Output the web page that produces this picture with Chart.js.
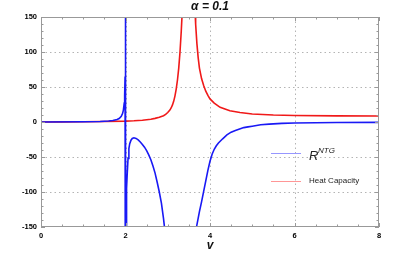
<!DOCTYPE html>
<html>
<head>
    <title>alpha = 0.1</title>
    <script src="https://cdn.jsdelivr.net/npm/chart.js"></script>
    <style>
        body {
            margin: 0;
            background-color: white;
        }
        #plot {
            display: block;
        }
    </style>
</head>
<body>
    <canvas id="plot" width="415" height="260"></canvas>

    <script>
        // values (null = break in the curve)
        const blueV = [0, 1.0, 1.4, 1.6, 1.7, 1.8, 1.85, 1.9, 1.93, 1.95, 1.97, 1.98, 1.99, 1.996, 2.003,
                       2.004, 2.012, 2.02, 2.03, 2.04, 2.06, 2.08, 2.1, 2.13, 2.16, 2.2, 2.25, 2.3, 2.35, 2.4, 2.45,
                       2.5, 2.55, 2.6, 2.65, 2.7, 2.75, 2.8, 2.85, 2.9, 2.95, 3.0,
                       3.3,
                       3.6, 3.68, 3.75, 3.8, 3.85, 3.9, 3.95, 4.0, 4.05, 4.1, 4.15, 4.2, 4.3, 4.4, 4.5, 4.6, 4.7,
                       4.8, 4.9, 5.0, 5.2, 5.4, 5.7, 6.0, 6.5, 7.0, 8.0];
        const blueR = [0, 0.3, 0.8, 1.5, 2.2, 3.5, 5, 8, 12, 17, 27, 38, 65, 130, 600,
                       -600, -180, -130, -95, -75, -52, -38, -31, -26, -23.5, -22.5, -23.5, -25.5, -28.5, -32, -36,
                       -41, -47, -54, -63, -73, -86, -100, -116, -138, -165, -200,
                       null,
                       -200, -150, -128, -114, -99, -84, -69, -56, -46, -39, -34, -30, -24, -18.5, -14.5, -12, -10,
                       -8, -7, -6, -4, -3, -2, -1.5, -1, -0.8, -0.5];

        const redV = [0, 0.5, 1.0, 1.5, 2.0, 2.2, 2.4, 2.5, 2.6, 2.7, 2.8, 2.9, 2.95, 3.0, 3.05, 3.08, 3.11,
                      3.14, 3.17, 3.2, 3.23, 3.26, 3.29, 3.32, 3.345, 3.37,
                      3.5,
                      3.62, 3.645, 3.66, 3.69, 3.72, 3.75, 3.8, 3.85, 3.9, 3.95, 4.0, 4.1, 4.24, 4.47, 4.71,
                      5.0, 5.5, 6.0, 7.0, 8.0];
        const redC = [0, 0.2, 0.4, 0.7, 1.2, 1.7, 2.5, 3.2, 4, 5.2, 6.8, 9, 10.8, 13.5, 17, 20, 24,
                      29.5, 37, 47, 60, 77, 100, 130, 160, 200,
                      null,
                      200, 160, 140, 112, 92, 77, 62, 52, 44, 38, 33, 27, 21, 16, 13.5,
                      11.5, 10, 9.3, 8.8, 8.6];

        const seriesLabels = ['R', 'Heat Capacity'];
        const titleText = 'α = 0.1';
        const xTitle = 'v';
        const xTicks = [0, 2, 4, 6, 8];
        const yTicks = [-150, -100, -50, 0, 50, 100, 150];

        const BLUE = 'rgb(25,25,245)';
        const RED = 'rgb(240,25,25)';

        // frame, inward ticks, dotted grid, title, legend
        const framePlugin = {
            id: 'frame',
            beforeDatasetsDraw(chart) {
                const c = chart.ctx, a = chart.chartArea;
                const sx = chart.scales.x, sy = chart.scales.y;
                c.save();
                c.strokeStyle = '#b4b4b4';
                c.lineWidth = 1;
                c.setLineDash([1.5, 3]);
                [2, 4, 6].forEach(v => {
                    const px = Math.round(sx.getPixelForValue(v)) + 0.5;
                    c.beginPath(); c.moveTo(px, a.top); c.lineTo(px, a.bottom); c.stroke();
                });
                [-100, -50, 50, 100].forEach(v => {
                    const py = Math.round(sy.getPixelForValue(v)) + 0.5;
                    c.beginPath(); c.moveTo(a.left, py); c.lineTo(a.right, py); c.stroke();
                });
                c.restore();
            },
            afterDraw(chart) {
                const c = chart.ctx, a = chart.chartArea;
                const sx = chart.scales.x, sy = chart.scales.y;
                c.save();
                c.strokeStyle = '#999';
                c.lineWidth = 1;
                c.strokeRect(a.left + 0.5, a.top + 0.5, a.right - a.left - 1, a.bottom - a.top - 1);
                c.beginPath();
                for (let k = 0; k <= 16; k++) {
                    const v = k * 0.5;
                    const len = (v % 2 === 0) ? 4 : 2.5;
                    const px = Math.round(sx.getPixelForValue(v)) + 0.5;
                    c.moveTo(px, a.bottom); c.lineTo(px, a.bottom - len);
                    c.moveTo(px, a.top); c.lineTo(px, a.top + len);
                }
                for (let k = -15; k <= 15; k++) {
                    const v = k * 10;
                    const len = (v % 50 === 0) ? 4 : 2.5;
                    const py = Math.round(sy.getPixelForValue(v)) + 0.5;
                    c.moveTo(a.left, py); c.lineTo(a.left + len, py);
                    c.moveTo(a.right, py); c.lineTo(a.right - len, py);
                }
                c.stroke();

                // title and axis label
                c.fillStyle = '#111';
                c.textAlign = 'center';
                c.textBaseline = 'middle';
                c.font = 'italic bold 12px "Liberation Sans"';
                c.fillText(titleText, (a.left + a.right) / 2, 7);
                c.fillText(xTitle, (a.left + a.right) / 2, 246);

                // legend
                c.lineWidth = 1;
                c.strokeStyle = 'rgb(150,150,255)';
                c.beginPath(); c.moveTo(271, 153.5); c.lineTo(301, 153.5); c.stroke();
                c.strokeStyle = 'rgb(255,150,150)';
                c.beginPath(); c.moveTo(271, 181.5); c.lineTo(301, 181.5); c.stroke();
                c.textAlign = 'left';
                c.textBaseline = 'alphabetic';
                c.fillStyle = '#222';
                c.font = 'italic 13px "Liberation Sans"';
                c.fillText(seriesLabels[0], 309, 159.5);
                c.font = 'italic 8px "Liberation Sans"';
                c.fillText('NTG', 318, 153);
                c.font = '8px "Liberation Sans"';
                c.textBaseline = 'middle';
                c.fillText(seriesLabels[1], 309, 181);
                c.restore();
            }
        };

        const ctx = document.getElementById('plot').getContext('2d');
        const chart = new Chart(ctx, {
            type: 'line',
            data: {
                datasets: [
                    {
                        label: seriesLabels[0],
                        data: blueV.map((v, i) => ({ x: v, y: blueR[i] })),
                        borderColor: BLUE,
                        borderWidth: 1.6,
                        pointRadius: 0,
                        spanGaps: false
                    },
                    {
                        label: seriesLabels[1],
                        data: redV.map((v, i) => ({ x: v, y: redC[i] })),
                        borderColor: RED,
                        borderWidth: 1.6,
                        pointRadius: 0,
                        spanGaps: false
                    }
                ]
            },
            options: {
                responsive: false,
                animation: false,
                layout: { padding: { top: 17, right: 36, left: 0, bottom: 0 } },
                scales: {
                    x: {
                        type: 'linear',
                        min: 0,
                        max: 8,
                        afterFit: s => { s.height = 33; },
                        afterBuildTicks: s => { s.ticks = xTicks.map(v => ({ value: v })); },
                        grid: { display: false, drawTicks: false },
                        border: { display: false },
                        ticks: {
                            padding: 4,
                            color: '#000',
                            font: { family: 'Liberation Sans', size: 7.5, weight: 'bold' }
                        }
                    },
                    y: {
                        min: -150,
                        max: 150,
                        afterFit: s => { s.width = 41; },
                        afterBuildTicks: s => { s.ticks = yTicks.map(v => ({ value: v })); },
                        grid: { display: false, drawTicks: false },
                        border: { display: false },
                        ticks: {
                            padding: 4,
                            color: '#000',
                            font: { family: 'Liberation Sans', size: 7.5, weight: 'bold' }
                        }
                    }
                },
                plugins: {
                    legend: { display: false },
                    tooltip: { enabled: false }
                }
            },
            plugins: [framePlugin]
        });
    </script>
</body>
</html>
